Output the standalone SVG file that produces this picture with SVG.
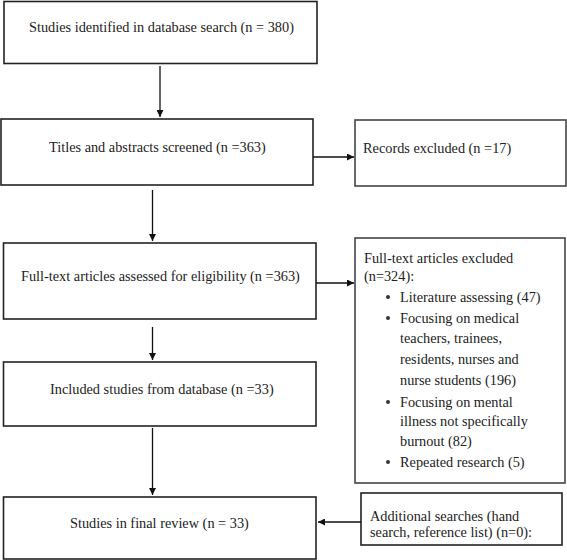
<svg xmlns="http://www.w3.org/2000/svg" width="567" height="560" viewBox="0 0 567 560">
<defs>
<style>
.box{fill:#fff;stroke:#222;stroke-width:1.6}
.side{fill:#fff;stroke:#444;stroke-width:1.6}
.t{font-family:'Liberation Serif','DejaVu Serif',serif;font-size:14.3px;fill:#222}
.c{stroke:#111;stroke-width:1.3;fill:none}
</style>
<marker id="ah" viewBox="0 0 10 10" refX="10" refY="5" markerWidth="7" markerHeight="7" markerUnits="userSpaceOnUse" orient="auto">
<path d="M0,0 L10,5 L0,10 z" fill="#111"/>
</marker>
</defs>
<rect width="567" height="560" fill="#fff"/>
<g font-family="Liberation Serif, DejaVu Serif, serif">
<g id="n1"><rect class="box" x="4" y="1.5" width="313" height="62"/><text class="t" x="29" y="32">Studies identified in database search (n = 380)</text></g>
<g id="n2"><rect class="box" x="1" y="119" width="312" height="66"/><text class="t" x="49" y="152">Titles and abstracts screened (n =363)</text></g>
<g id="n3"><rect class="side" x="355" y="120" width="211" height="66"/><text class="t" x="363" y="153">Records excluded (n =17)</text></g>
<g id="n4"><rect class="box" x="3.5" y="243" width="312.5" height="76"/><text class="t" x="21" y="281">Full-text articles assessed for eligibility (n =363)</text></g>
<g id="n5"><rect class="side" x="355" y="238" width="210" height="245"/>
<text class="t" x="364" y="263">Full-text articles excluded</text>
<text class="t" x="364" y="281">(n=324):</text>
<g fill="#333"><circle cx="388" cy="297" r="2"/><circle cx="388" cy="318" r="2"/><circle cx="388" cy="402" r="2"/><circle cx="388" cy="462" r="2"/></g>
<text class="t" x="400" y="302">Literature assessing (47)</text>
<text class="t" x="400" y="323">Focusing on medical</text>
<text class="t" x="400" y="343">teachers, trainees,</text>
<text class="t" x="400" y="364">residents, nurses and</text>
<text class="t" x="400" y="385">nurse students (196)</text>
<text class="t" x="400" y="407">Focusing on mental</text>
<text class="t" x="400" y="426">illness not specifically</text>
<text class="t" x="400" y="446">burnout (82)</text>
<text class="t" x="400" y="467">Repeated research (5)</text>
</g>
<g id="n6"><rect class="box" x="3.5" y="362" width="312.5" height="64"/><text class="t" x="50" y="394">Included studies from database (n =33)</text></g>
<g id="n7"><rect class="box" x="3.5" y="497" width="312.5" height="62"/><text class="t" x="70" y="528">Studies in final review (n = 33)</text></g>
<g id="n8"><rect class="box" x="361" y="493" width="201" height="52"/><text class="t" x="370" y="521">Additional searches (hand</text><text class="t" x="370" y="537">search, reference list) (n=0):</text></g>
</g>
<g id="connectors">
<line class="c" x1="160" y1="66" x2="160" y2="117" marker-end="url(#ah)"/>
<line class="c" x1="313" y1="157" x2="354" y2="157" marker-end="url(#ah)"/>
<line class="c" x1="152.5" y1="190" x2="152.5" y2="241" marker-end="url(#ah)"/>
<line class="c" x1="316" y1="283" x2="354" y2="283" stroke-width="2" marker-end="url(#ah)"/>
<line class="c" x1="152.5" y1="327" x2="152.5" y2="360" marker-end="url(#ah)"/>
<line class="c" x1="152.5" y1="428" x2="152.5" y2="495" marker-end="url(#ah)"/>
<line class="c" x1="361" y1="522" x2="318" y2="522" marker-end="url(#ah)"/>
</g>
</svg>
